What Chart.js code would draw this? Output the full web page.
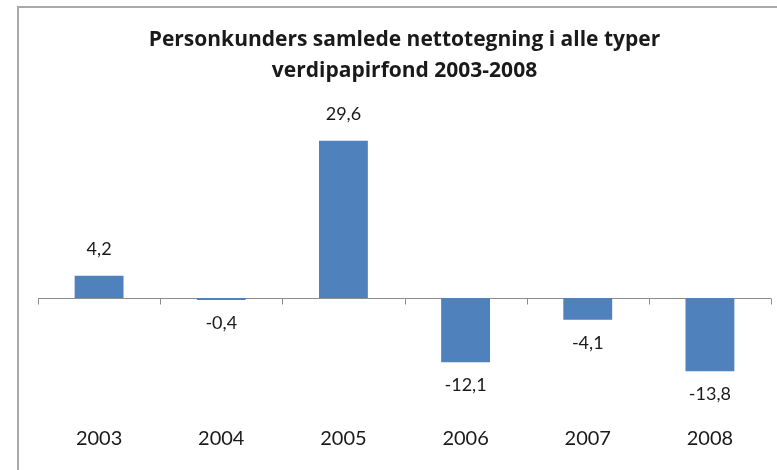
<!DOCTYPE html>
<html>
<head>
<meta charset="utf-8">
<script src="https://cdn.jsdelivr.net/npm/chart.js@4"></script>
<style>
  html, body { margin: 0; padding: 0; background: #fff; overflow: hidden; }
  #frame {
    position: absolute; left: 17px; top: 6px; width: 800px; height: 500px;
    border-top: 2px solid #a9a9a9; border-left: 2px solid #a9a9a9;
  }
  #wrap { position: absolute; left: 0; top: 0; width: 777px; height: 470px; }
</style>
</head>
<body>
<div id="frame"></div>
<div id="wrap"><canvas id="myChart"></canvas></div>
<script>
const years = ["2003", "2004", "2005", "2006", "2007", "2008"];
const values = [4.2, -0.4, 29.6, -12.1, -4.1, -13.8];
const titleLines = ["Personkunders samlede nettotegning i alle typer", "verdipapirfond 2003-2008"];

const fontFamily = "Lato, 'Open Sans', sans-serif";
const titleFamily = "'Open Sans', Lato, sans-serif";

// zero line with small tick marks at category edges
const zeroAxis = {
  id: "zeroAxis",
  beforeDatasetsDraw(chart) {
    const ctx = chart.ctx;
    const x = chart.scales.x;
    const y0 = Math.round(chart.scales.y.getPixelForValue(0)) + 0.5;
    ctx.save();
    ctx.strokeStyle = "#8c8c8c";
    ctx.lineWidth = 1;
    ctx.beginPath();
    ctx.moveTo(x.left, y0);
    ctx.lineTo(x.right, y0);
    const step = (x.right - x.left) / years.length;
    for (let i = 0; i <= years.length; i++) {
      const px = Math.round(x.left + i * step) + 0.5;
      ctx.moveTo(px, y0);
      ctx.lineTo(px, y0 + 6);
    }
    ctx.stroke();
    ctx.restore();
  },
};

// value labels above / below bars
const barLabels = {
  id: "barLabels",
  afterDatasetsDraw(chart) {
    const ctx = chart.ctx;
    const meta = chart.getDatasetMeta(0);
    ctx.save();
    ctx.fillStyle = "#1a1a1a";
    ctx.font = "18px " + fontFamily;
    ctx.textAlign = "center";
    ctx.textBaseline = "middle";
    meta.data.forEach((bar, i) => {
      const v = values[i];
      const txt = v.toFixed(1).replace(".", ",");
      const y = v >= 0 ? bar.y - 26 : bar.y + 23;
      ctx.fillText(txt, bar.x, y);
    });
    ctx.restore();
  },
};

const myChart = new Chart("myChart", {
  type: "bar",
  data: {
    labels: years,
    datasets: [
      {
        data: values,
        backgroundColor: "#4f81bd",
        borderWidth: 0,
        categoryPercentage: 1,
        barPercentage: 0.4,
      },
    ],
  },
  options: {
    responsive: true,
    maintainAspectRatio: false,
    animation: false,
    layout: { padding: { left: 38, right: 6, top: 0, bottom: 0 } },
    plugins: {
      legend: { display: false },
      tooltip: { enabled: false },
      title: {
        display: true,
        text: titleLines,
        color: "#1a1a1a",
        font: { family: titleFamily, size: 21, weight: "bold", lineHeight: 1.45 },
        padding: { top: 25, bottom: 42 },
      },
    },
    scales: {
      x: {
        grid: { display: false },
        border: { display: false },
        ticks: {
          color: "#1a1a1a",
          font: { family: fontFamily, size: 20 },
          padding: 36,
        },
        afterFit(scale) {
          scale.height = 87;
        },
      },
      y: {
        display: false,
        min: -16,
        max: 32,
      },
    },
  },
  plugins: [zeroAxis, barLabels],
});
</script>
</body>
</html>
